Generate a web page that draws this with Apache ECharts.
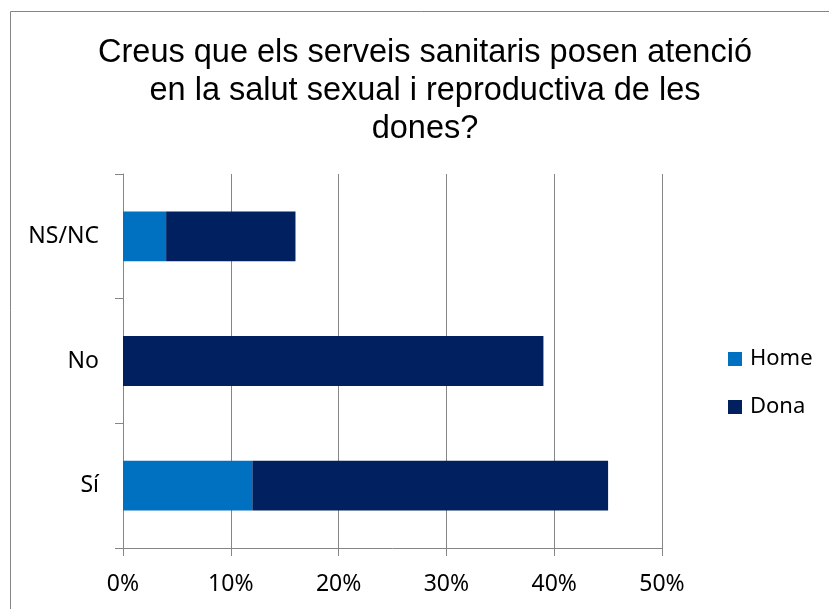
<!DOCTYPE html>
<html>
<head>
<meta charset="utf-8">
<script src="https://cdn.jsdelivr.net/npm/echarts@6/dist/echarts.min.js"></script>
<style>html,body{margin:0;padding:0;background:#fff}#c{width:829px;height:609px}</style>
</head>
<body>
<div id="c"></div>
<script>
var categories = ['Sí', 'No', 'NS/NC'];
var homeValues = [12, 0, 4];
var donaValues = [33, 39, 12];
var xTicks = [0, 10, 20, 30, 40, 50];
var titleText = 'Creus que els serveis sanitaris posen atenció\nen la salut sexual i reproductiva de les\ndones?';

var chart = echarts.init(document.getElementById('c'), null, {renderer: 'canvas'});
var lab = {fontFamily: 'Noto Sans', fontSize: 23, color: '#000'};
chart.setOption({
  animation: false,
  graphic: [{
    type: 'rect', shape: {x: 10.5, y: 11.5, width: 900, height: 900},
    style: {fill: 'none', stroke: '#868686', lineWidth: 1}, silent: true
  }],
  title: {
    text: titleText, left: 425, top: 34, textAlign: 'center', padding: 0,
    textStyle: {fontFamily: 'Liberation Sans', fontSize: 32.5, fontWeight: 'normal', color: '#000', lineHeight: 38}
  },
  legend: {
    orient: 'vertical', left: 728, top: 348, itemWidth: 14, itemHeight: 14, itemGap: 26, padding: 0,
    icon: 'rect',
    textStyle: {fontFamily: 'Noto Sans', fontSize: 22, color: '#000', padding: [0, 0, 0, 3]},
    data: ['Home', 'Dona']
  },
  grid: {left: 123, right: 167, top: 174, bottom: 61, containLabel: false},
  xAxis: {
    type: 'value', min: 0, max: 50, interval: 10,
    axisLine: {show: true, lineStyle: {color: '#868686', width: 1}},
    axisTick: {show: true, length: 8, lineStyle: {color: '#868686'}},
    splitLine: {show: true, lineStyle: {color: '#868686', width: 1}},
    axisLabel: Object.assign({margin: 25, formatter: function (v) { return xTicks.indexOf(v) >= 0 ? v + '%' : ''; }}, lab)
  },
  yAxis: {
    type: 'category', data: categories,
    axisLine: {show: true, lineStyle: {color: '#868686', width: 1}},
    axisTick: {show: true, length: 8, lineStyle: {color: '#868686'}},
    axisLabel: Object.assign({margin: 24}, lab)
  },
  series: [
    {name: 'Home', type: 'bar', stack: 's', data: homeValues, barWidth: '40%',
     itemStyle: {color: '#0070C0'}},
    {name: 'Dona', type: 'bar', stack: 's', data: donaValues, barWidth: '40%',
     itemStyle: {color: '#002060'}}
  ]
});
</script>
</body>
</html>
